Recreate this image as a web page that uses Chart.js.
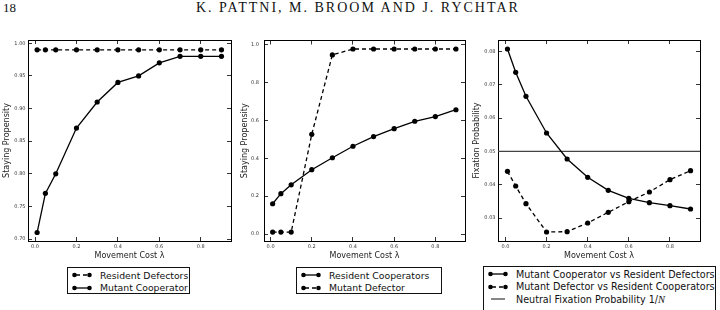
<!DOCTYPE html>
<html>
<head>
<meta charset="utf-8">
<script src="https://cdn.jsdelivr.net/npm/chart.js@4.4.0/dist/chart.umd.min.js"></script>
<style>
  html, body { margin: 0; padding: 0; background: #fff; }
  #page { position: relative; width: 720px; height: 310px; overflow: hidden; background: #fff; }
  #page canvas { position: absolute; left: 0; top: 0; }
  .header { position: absolute; top: 0px; font-family: 'Liberation Serif', 'DejaVu Serif', serif; font-size: 14px; color: #111; letter-spacing: 2px; white-space: nowrap; }
  .legend { position: absolute; border: 1px solid #111; background: #fff; box-sizing: border-box;
            font-family: 'DejaVu Sans', sans-serif; font-size: 9.3px; color: #111; padding-top: 1px; z-index: 2; }
  .legend .row { display: flex; align-items: center; height: 12.5px; white-space: nowrap; }
  .legend svg { margin-left: 4px; margin-right: 8px; flex: none; }
  .legend i { font-family: 'Liberation Serif', serif; font-size: 10.5px; }
</style>
</head>
<body>
<div id="page">
  <div class="header" style="left:3px; letter-spacing:0; font-size:13px">18</div>
  <div class="header" style="left:196px">K. PATTNI, M. BROOM AND J. RYCHTAR</div>
  <canvas id="c1" width="720" height="310"></canvas>
  <canvas id="c2" width="720" height="310"></canvas>
  <canvas id="c3" width="720" height="310"></canvas>

  <div class="legend" style="left:67px; top:267px; width:123px; height:27px">
    <div class="row"><svg width="20" height="8"><line x1="2" y1="4" x2="18" y2="4" stroke="#000" stroke-width="1.3" stroke-dasharray="4 3" stroke-dashoffset="-2"/><circle cx="2.5" cy="4" r="2.3"/><circle cx="17.5" cy="4" r="2.3"/></svg>Resident Defectors</div>
    <div class="row"><svg width="20" height="8"><line x1="2" y1="4" x2="18" y2="4" stroke="#000" stroke-width="1.3"/><circle cx="2.5" cy="4" r="2.3"/><circle cx="17.5" cy="4" r="2.3"/></svg>Mutant Cooperator</div>
  </div>
  <div class="legend" style="left:296px; top:267px; width:146px; height:27px">
    <div class="row"><svg width="20" height="8"><line x1="2" y1="4" x2="18" y2="4" stroke="#000" stroke-width="1.3"/><circle cx="2.5" cy="4" r="2.3"/><circle cx="17.5" cy="4" r="2.3"/></svg>Resident Cooperators</div>
    <div class="row"><svg width="20" height="8"><line x1="2" y1="4" x2="18" y2="4" stroke="#000" stroke-width="1.3" stroke-dasharray="4 3" stroke-dashoffset="-2"/><circle cx="2.5" cy="4" r="2.3"/><circle cx="17.5" cy="4" r="2.3"/></svg>Mutant Defector</div>
  </div>
  <div class="legend" style="left:483px; top:266px; width:233px; height:52px; font-size:9.6px">
    <div class="row"><svg width="20" height="8"><line x1="2" y1="4" x2="18" y2="4" stroke="#000" stroke-width="1.3"/><circle cx="2.5" cy="4" r="2.3"/><circle cx="17.5" cy="4" r="2.3"/></svg>Mutant Cooperator vs Resident Defectors</div>
    <div class="row"><svg width="20" height="8"><line x1="2" y1="4" x2="18" y2="4" stroke="#000" stroke-width="1.3" stroke-dasharray="4 3" stroke-dashoffset="-2"/><circle cx="2.5" cy="4" r="2.3"/><circle cx="17.5" cy="4" r="2.3"/></svg>Mutant Defector vs Resident Cooperators</div>
    <div class="row"><svg width="20" height="8"><line x1="3" y1="4" x2="17" y2="4" stroke="#444" stroke-width="1.3"/></svg>Neutral Fixation Probability&nbsp;1/<i>N</i></div>
  </div>
</div>

<script>
// movement cost lambda (shared x values)
const MOVEMENT_COST = [0.01, 0.05, 0.1, 0.2, 0.3, 0.4, 0.5, 0.6, 0.7, 0.8, 0.9];
const X_TICK_LABELS = ['0.0', '0.2', '0.4', '0.6', '0.8'];

// left panel: staying propensity
const RESIDENT_DEFECTORS = [0.99, 0.99, 0.99, 0.99, 0.99, 0.99, 0.99, 0.99, 0.99, 0.99, 0.99];
const MUTANT_COOPERATOR = [0.71, 0.77, 0.80, 0.87, 0.91, 0.94, 0.95, 0.97, 0.98, 0.98, 0.98];
const Y1_TICK_LABELS = ['0.70', '0.75', '0.80', '0.85', '0.90', '0.95', '1.00'];

// middle panel: staying propensity
const RESIDENT_COOPERATORS = [0.16, 0.213, 0.26, 0.34, 0.403, 0.464, 0.515, 0.557, 0.596, 0.621, 0.657];
const MUTANT_DEFECTOR = [0.01, 0.01, 0.01, 0.527, 0.947, 0.978, 0.978, 0.978, 0.978, 0.978, 0.978];
const Y2_TICK_LABELS = ['0.0', '0.2', '0.4', '0.6', '0.8', '1.0'];

// right panel: fixation probability
const FIX_COOP_VS_DEF = [0.0807, 0.0737, 0.0665, 0.0555, 0.0477, 0.0422, 0.0383, 0.0359, 0.0346, 0.0337, 0.0327];
const FIX_DEF_VS_COOP = [0.0440, 0.0396, 0.0343, 0.0258, 0.0259, 0.0285, 0.0317, 0.0349, 0.0378, 0.0415, 0.0442];
const NEUTRAL_FIX = [0.05, 0.05];
const Y3_TICK_LABELS = ['0.03', '0.04', '0.05', '0.06', '0.07', '0.08'];

const FONT = "'DejaVu Sans', sans-serif";
const PLOT_BOTTOM = 241;
const X_AXIS_H = 20;

function points(ys) {
  return ys.map((y, i) => ({ x: MOVEMENT_COST[i], y }));
}

function series(ys, dashed) {
  return {
    data: points(ys),
    borderColor: '#000',
    backgroundColor: '#000',
    borderWidth: 1.3,
    borderDash: dashed ? [4, 3] : [],
    pointRadius: 2.6,
    pointBorderWidth: 0,
    pointBackgroundColor: '#000',
    tension: 0
  };
}

function xAxis(p, pos) {
  const main = pos === 'bottom';
  return {
    type: 'linear', position: pos, min: p.xMin, max: p.xMax,
    afterBuildTicks: s => { s.ticks = X_TICK_LABELS.map(t => ({ value: Number(t) })); },
    afterFit: s => { s.height = main ? X_AXIS_H : 0; },
    grid: { drawOnChartArea: false, drawTicks: true, tickLength: -4, color: '#000', lineWidth: 0.8 },
    border: { display: true, color: '#000', width: 1 },
    ticks: {
      display: main, padding: 7, maxRotation: 0, autoSkip: false, color: '#333',
      font: { family: FONT, size: 5 },
      callback: (v, i) => X_TICK_LABELS[i]
    },
    title: { display: main, text: 'Movement Cost λ', color: '#222', padding: 0, font: { family: FONT, size: 8 } }
  };
}

function yAxis(p, pos) {
  const main = pos === 'left';
  return {
    type: 'linear', position: pos, min: p.yMin, max: p.yMax,
    afterBuildTicks: s => { s.ticks = p.yTicks.map(t => ({ value: Number(t) })); },
    afterFit: s => { s.width = main ? p.plotLeft - p.left : 0; },
    grid: { drawOnChartArea: false, drawTicks: true, tickLength: -4, color: '#000', lineWidth: 0.8 },
    border: { display: true, color: '#000', width: 1 },
    ticks: {
      display: main, padding: 4 + p.tickGap, color: '#333',
      font: { family: FONT, size: 5 },
      callback: (v, i) => p.yTicks[i]
    },
    title: { display: main, text: p.yTitle, color: '#222', padding: 0, font: { family: FONT, size: 8 } }
  };
}

function makePanel(id, p) {
  new Chart(document.getElementById(id), {
    type: 'line',
    data: { datasets: p.datasets },
    options: {
      responsive: false,
      animation: false,
      layout: { padding: { left: p.left, right: 720 - p.plotRight, top: p.plotTop, bottom: 310 - PLOT_BOTTOM - X_AXIS_H } },
      plugins: { legend: { display: false }, tooltip: { enabled: false } },
      scales: {
        x: xAxis(p, 'bottom'),
        x2: xAxis(p, 'top'),
        y: yAxis(p, 'left'),
        y2: yAxis(p, 'right')
      }
    }
  });
}

makePanel('c1', {
  left: 2.5, plotLeft: 28, plotRight: 231, plotTop: 40, tickGap: 2.5,
  xMin: -0.034, xMax: 0.946, yMin: 0.697, yMax: 1.005,
  yTicks: Y1_TICK_LABELS, yTitle: 'Staying Propensity',
  datasets: [series(RESIDENT_DEFECTORS, true), series(MUTANT_COOPERATOR, false)]
});

makePanel('c2', {
  left: 240.2, plotLeft: 264, plotRight: 465, plotTop: 40.5, tickGap: 5,
  xMin: -0.032, xMax: 0.944, yMin: -0.037, yMax: 1.023,
  yTicks: Y2_TICK_LABELS, yTitle: 'Staying Propensity',
  datasets: [series(RESIDENT_COOPERATORS, false), series(MUTANT_DEFECTOR, true)]
});

const p3 = {
  left: 472.2, plotLeft: 498, plotRight: 700, plotTop: 40, tickGap: 2.5,
  xMin: -0.036, xMax: 0.946, yMin: 0.0231, yMax: 0.0834,
  yTicks: Y3_TICK_LABELS, yTitle: 'Fixation Probability'
};
p3.datasets = [
  series(FIX_COOP_VS_DEF, false),
  series(FIX_DEF_VS_COOP, true),
  {
    // horizontal neutral line across the full x range
    data: NEUTRAL_FIX.map((y, i) => ({ x: i === 0 ? p3.xMin : p3.xMax, y })),
    borderColor: '#444', borderWidth: 1.3, pointRadius: 0
  }
];
makePanel('c3', p3);
</script>
</body>
</html>
